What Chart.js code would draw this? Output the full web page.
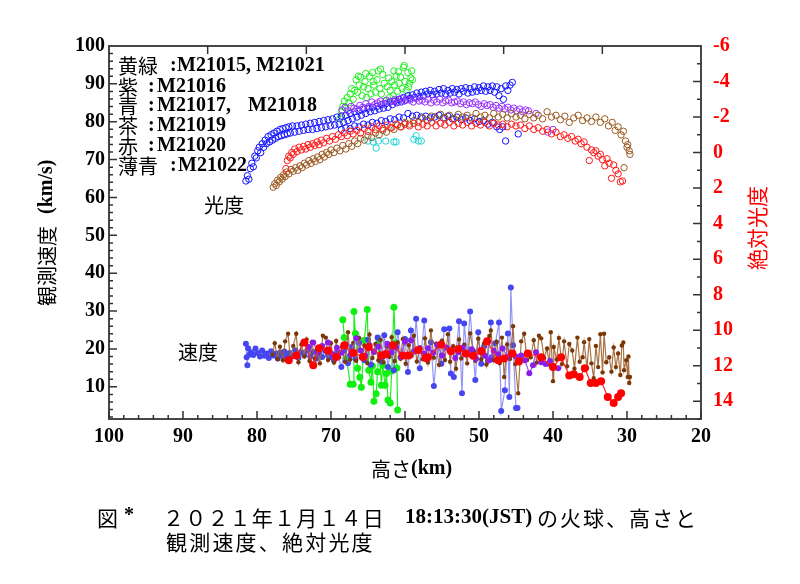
<!DOCTYPE html>
<html lang="ja">
<head>
<meta charset="UTF-8">
<title>2021年1月14日の火球 高さ・観測速度・絶対光度</title>
<script src="https://cdn.jsdelivr.net/npm/chart.js"></script>
<style>
  html, body { margin: 0; padding: 0; background: #fff; }
  #wrap { width: 800px; height: 584px; }
</style>
</head>
<body>
<div id="wrap"><canvas id="fireball" width="800" height="584"></canvas></div>
<script>
// ---- values: height (km) vs velocity (km/s) / absolute magnitude ----

// tick labels
const heightTicks = [20, 30, 40, 50, 60, 70, 80, 90, 100];
const speedTicks = [10, 20, 30, 40, 50, 60, 70, 80, 90, 100];
const magTicks = [-6, -4, -2, 0, 2, 4, 6, 8, 10, 12, 14];

// 黄緑 M21015, M21021 - brightness
const greenLightKm = [68.8,68.6,68.4,68.2,68.0,67.8,67.6,67.4,67.2,67.0, 66.8,66.6,66.4,66.2,66.0,65.8,65.6,65.4,65.2,65.0,
  64.8,64.6,64.4,64.2,64.0,63.8,63.6,63.4,63.2,63.0, 62.8,62.6,62.4,62.2,62.0,61.8,61.6,61.4,61.2,61.0,
  60.8,60.6,60.4,60.2,60.0,59.8,59.6,59.4,59.2,59.0, 66.3,65.3,64.3,63.3,62.1,61.5,60.9,60.1,59.5,59.1];
const greenLightMag = [-1.9,-2.3,-2.6,-2.9,-2.5,-3.1,-2.8,-3.3,-3.6,-3.0, -3.5,-4.1,-3.4,-3.8,-4.25,-3.2,-3.7,-4.0,-3.1,-3.6,
  -4.3,-3.3,-4.5,-3.8,-3.4,-4.1,-4.6,-3.6,-3.3,-4.4, -3.9,-2.9,-3.7,-4.2,-3.5,-4.0,-3.2,-3.8,-4.3,-3.45,
  -3.9,-4.25,-3.6,-4.8,-4.0,-3.5,-4.5,-3.9,-4.2,-4.1, -4.3,-4.45,-4.0,-4.7,-3.1,-4.6,-4.55,-4.9,-3.7,-4.6];

// 紫 M21016 - brightness
const purpleLightKm = [68.5,68.1,67.7,67.3,66.9,66.5,66.1,65.7,65.3,64.9, 64.5,64.1,63.7,63.3,62.9,62.5,62.1,61.7,61.3,60.9,
  60.5,60.1,59.7,59.3,58.9,58.5,58.1,57.7,57.3,56.9, 56.5,56.1,55.7,55.3,54.9,54.5,54.1,53.7,53.3,52.9,
  52.5,52.1,51.7,51.3,50.9,50.5,50.1,49.7,49.3,48.9, 48.5,48.1,47.7,47.3,46.9,46.5,46.1,45.7,45.3,44.9,
  44.5,44.1,43.7,43.3,42.3,40.7,40.0];
const purpleLightMag = [-2.4,-2.55,-2.35,-2.6,-2.5,-2.45,-2.65,-2.55,-2.75,-2.6, -2.85,-2.7,-2.8,-2.9,-2.75,-2.95,-2.85,-2.9,-3.0,-2.85,
  -3.05,-2.9,-3.0,-2.95,-2.85,-3.05,-2.9,-2.95,-2.85,-3.0, -2.8,-2.95,-2.85,-3.0,-2.8,-2.9,-2.95,-2.8,-2.85,-2.9,
  -2.75,-2.85,-2.7,-2.8,-2.75,-2.85,-2.7,-2.6,-2.75,-2.65, -2.7,-2.55,-2.65,-2.5,-2.6,-2.45,-2.55,-2.4,-2.5,-2.35,
  -2.45,-2.3,-2.4,-2.35,-2.2,-1.15,-1.3];

// 青 M21017 - brightness
const blueLightKm = [81.5,81.3,81.1,80.9,80.7,80.5,80.3,80.1,79.9,79.7, 79.5,79.3,79.1,78.9,78.7,78.5,78.3,78.1,77.9,77.7,
  77.5,77.3,77.1,76.9,76.7,76.5,76.3,76.1,75.9,75.7, 75.5,75.2,74.9,74.6,74.3,74.0,73.7,73.4,73.1,72.8,
  72.5,72.2,71.9,71.6,71.3,71.0,70.7,70.4,70.1,69.8, 69.5,69.2,68.9,68.6,68.3,68.0,67.7,67.4,67.1,66.8,
  66.5,66.2,65.9,65.6,65.3,65.0,64.7,64.4,64.1,63.8, 63.5,63.2,62.9,62.6,62.3,62.0,61.7,61.4,61.1,60.8,
  60.5,60.2,59.9,59.6,59.3,59.0,58.7,58.4,58.1,57.8, 57.5,57.2,56.9,56.6,56.3,56.0,55.7,55.4,55.1,54.8,
  54.5,54.2,53.9,53.6,53.3,53.0,52.7,52.4,52.1,51.8, 51.5,51.2,50.9,50.6,50.3,50.0,49.7,49.4,49.1,48.8,
  48.5,48.2,47.9,47.6,47.3,47.0,46.7,46.4,46.1,45.8, 45.5];
const blueLightMag = [1.6,1.3,1.5,0.9,0.6,0.8,0.2,0.3,-0.1,-0.3, 0.0,-0.5,-0.3,-0.7,-0.5,-0.9,-0.6,-1.0,-0.7,-1.1,
  -0.8,-1.2,-0.9,-1.3,-0.95,-1.35,-1.0,-1.4,-1.05,-1.45, -1.1,-1.5,-1.15,-1.5,-1.2,-1.55,-1.25,-1.6,-1.3,-1.65,
  -1.3,-1.7,-1.35,-1.75,-1.4,-1.8,-1.45,-1.85,-1.5,-1.9, -1.55,-2.0,-1.6,-2.05,-1.7,-2.1,-1.8,-2.2,-1.9,-2.3,
  -2.0,-2.35,-2.1,-2.45,-2.2,-2.5,-2.3,-2.55,-2.35,-2.6, -2.45,-2.7,-2.5,-2.75,-2.55,-2.85,-2.7,-2.9,-2.8,-3.0,
  -2.85,-3.1,-2.95,-3.2,-3.05,-3.25,-3.1,-3.35,-3.15,-3.4, -3.2,-3.45,-3.3,-3.5,-3.25,-3.45,-3.3,-3.55,-3.35,-3.6,
  -3.3,-3.5,-3.35,-3.6,-3.4,-3.55,-3.3,-3.6,-3.45,-3.65, -3.35,-3.6,-3.4,-3.7,-3.45,-3.65,-3.5,-3.75,-3.45,-3.7,
  -3.5,-3.75,-3.4,-3.7,-3.2,-3.6,-3.0,-3.75,-3.5,-3.8, -3.95];

// 青 M21018 - brightness
const blue2LightKm = [68.6,68.0,67.4,66.8,66.2,65.6,65.0,64.4,63.8,63.2, 62.6,62.0,61.4,60.8,60.2,59.6,59.0,58.4,57.8,57.2,
  56.6,56.0,55.4,54.8,54.2,53.6,53.0,52.4,51.8,51.2, 50.6,50.0,49.4,48.8,48.2,47.6,47.2,46.8,46.4,44.7];
const blue2LightMag = [-1.3,-1.4,-1.35,-1.5,-1.45,-1.6,-1.55,-1.7,-1.65,-1.8, -1.75,-1.9,-1.85,-2.0,-1.95,-2.2,-2.05,-2.1,-2.0,-2.05,
  -1.95,-2.0,-2.1,-1.95,-2.05,-1.9,-2.0,-1.85,-1.95,-1.8, -1.9,-1.75,-1.8,-1.6,-1.7,-1.45,-1.3,-1.45,-0.65,-1.05];

// 茶 M21019 - brightness
const brownLightKm = [77.8,77.6,77.4,77.2,77.0,76.8,76.6,76.4,76.2,76.0, 75.7,75.4,75.1,74.8,74.5,74.2,73.9,73.6,73.3,73.0,
  72.7,72.4,72.1,71.8,71.5,71.2,70.9,70.6,70.3,70.0, 69.6,69.2,68.8,68.4,68.0,67.6,67.2,66.8,66.4,66.0,
  65.5,65.0,64.5,64.0,63.5,63.0,62.5,62.0,61.5,61.0, 60.5,60.0,59.4,58.8,58.2,57.6,57.0,56.4,55.8,55.2,
  54.6,54.0,53.4,52.8,52.2,51.6,51.0,50.4,49.8,49.2, 48.6,48.0,47.4,46.8,46.2,45.6,45.0,44.4,43.8,43.2,
  42.6,42.0,41.4,40.8,40.2,39.6,39.0,38.4,37.8,37.2, 36.6,36.0,35.4,34.8,34.2,33.6,33.0,32.5,32.0,31.6,
  31.2,30.8,30.5,30.2,29.9,29.7,29.6,30.0,30.4];
const brownLightMag = [1.95,1.75,1.85,1.55,1.65,1.4,1.5,1.25,1.35,1.1, 1.2,0.95,1.05,0.85,1.0,0.75,0.85,0.6,0.7,0.45,
  0.6,0.35,0.5,0.25,0.4,0.1,0.25,0.0,0.1,-0.15, 0.0,-0.25,-0.1,-0.4,-0.2,-0.5,-0.35,-0.65,-0.5,-0.8,
  -0.7,-0.95,-0.85,-1.1,-1.0,-1.25,-1.15,-1.4,-1.3,-1.55, -1.45,-1.7,-1.6,-1.8,-1.7,-1.95,-1.8,-2.05,-1.9,-2.15,
  -1.95,-2.1,-1.9,-2.15,-2.0,-2.1,-1.95,-2.2,-2.0,-2.1, -1.95,-2.2,-2.0,-2.15,-1.95,-2.2,-2.0,-2.1,-1.9,-2.15,
  -1.95,-2.1,-1.9,-2.3,-2.0,-2.1,-1.85,-2.05,-1.7,-1.95, -2.1,-1.8,-1.95,-1.75,-2.0,-1.7,-1.9,-1.5,-1.7,-1.25,
  -1.45,-1.0,-1.2,-0.65,-0.45,-0.1,0.1,-0.3,0.85];

// 赤 M21020 - brightness
const redLightKm = [76.1,75.9,75.7,75.5,75.3,75.1,74.9,74.6,74.3,74.0, 73.7,73.4,73.1,72.8,72.5,72.2,71.9,71.6,71.3,71.0,
  70.6,70.2,69.8,69.4,69.0,68.6,68.2,67.8,67.4,67.0, 66.5,66.0,65.5,65.0,64.5,64.0,63.5,63.0,62.4,61.8,
  61.2,60.6,60.0,59.4,58.8,58.2,57.6,57.0,56.4,55.8, 55.2,54.6,54.0,53.4,52.8,52.2,51.6,51.0,50.4,49.8,
  49.2,48.6,48.0,47.4,46.8,46.2,45.6,45.0,44.4,43.8, 43.2,42.6,42.0,41.4,40.8,40.2,39.6,39.0,38.5,38.0,
  37.5,37.0,36.6,36.2,35.8,35.4,35.1,34.8,34.5,34.2, 33.9,33.6,33.3,33.0,32.7,32.4,32.1,31.8,31.5,31.2,
  30.9,30.6];
const redLightMag = [0.9,0.45,0.2,0.3,0.0,0.1,-0.2,-0.05,-0.3,-0.15, -0.35,-0.2,-0.45,-0.3,-0.5,-0.4,-0.6,-0.45,-0.7,-0.55,
  -0.8,-0.65,-0.9,-0.75,-1.0,-0.9,-1.1,-0.95,-1.2,-1.05, -1.25,-1.1,-1.35,-1.2,-1.45,-1.3,-1.5,-1.35,-1.55,-1.4,
  -1.6,-1.45,-1.6,-1.5,-1.65,-1.45,-1.6,-1.5,-1.7,-1.5, -1.65,-1.55,-1.7,-1.5,-1.65,-1.55,-1.7,-1.5,-1.65,-1.55,
  -1.7,-1.5,-1.65,-1.55,-1.6,-1.45,-1.6,-1.5,-1.55,-1.35, -1.5,-1.3,-1.4,-1.2,-1.3,-1.05,-1.15,-0.9,-1.0,-0.8,
  -0.9,-0.65,-0.75,-0.5,-0.6,-0.3,0.45,-0.15,0.0,-0.1, 0.2,0.1,0.4,0.75,0.35,0.6,1.45,0.7,1.0,1.2,
  1.65,1.6];

// 薄青 M21022 - brightness
const cyanLightKm = [65.0,64.3,63.9,63.6,62.6,61.5,61.2,58.8,58.5,58.2,57.8];
const cyanLightMag = [-0.65,-0.6,-0.25,-0.65,-0.65,-0.6,-0.6,-0.75,-0.95,-0.65,-0.65];

// velocities (km/s)
const blueSpeedKm = [81.5,81.4,81.3,81.2,81.0,80.8,80.5,80.2,79.9,79.6, 79.3,79.0,78.7,78.4,78.1,77.8,77.5,77.2,76.9,76.6,
  76.3,76.0,75.6,75.2,74.8,74.4,74.0,73.6,73.2,72.8, 72.4,72.0,71.6,71.2,70.8,70.4,70.0,69.6,69.2,68.6,
  68.2,67.7,67.2,66.7,66.2,65.5,65.0,64.6,64.2,63.7, 63.2,62.8,62.3,61.9,61.5,61.0,60.5,60.0,59.6,59.2,
  58.8,58.5,58.0,57.4,57.0,56.5,56.1,55.6,55.1,54.7, 54.0,53.8,53.4,52.7,52.3,52.0,51.6,51.2,50.8,50.5,
  50.1,49.7,49.3,48.8,48.4,48.3,47.8,47.3,47.0,46.5, 46.1,45.9,45.7,45.4,45.0,44.8];
const blueSpeed = [21.4,17.8,15.7,20.2,18.5,19.1,18.4,20.1,18.9,18.0, 19.6,18.2,18.8,17.6,19.4,18.3,18.8,17.5,19.0,18.2,
  19.3,17.9,18.9,18.1,19.6,17.7,19.1,18.4,19.6,18.0, 19.2,17.4,18.7,17.9,19.5,18.3,17.8,17.0,18.9,15.2,
  19.6,16.2,20.5,17.4,21.6,17.0,22.4,15.8,19.2,23.0, 16.7,23.6,15.2,20.4,14.4,24.4,18.0,22.6,13.9,24.9,
  19.3,28.0,14.9,27.5,17.2,21.8,10.2,20.8,16.1,25.2, 25.4,13.5,12.6,27.3,8.3,26.7,18.6,29.9,19.4,11.8,
  24.4,16.1,20.7,16.9,27.0,17.8,21.5,27.0,3.6,9.1, 24.1,7.3,36.2,21.0,4.4,4.4];

const brownSpeedKm = [77.9,77.6,77.2,76.9,76.5,76.2,75.8,75.5,75.1,74.7, 74.4,74.0,73.6,73.3,72.9,72.6,72.2,71.9,71.5,71.1,
  70.7,70.4,70.0,69.6,69.3,68.9,68.5,68.1,67.7,67.4, 67.0,66.6,66.2,65.9,65.5,65.1,64.8,64.4,64.0,63.6,
  63.3,62.9,62.5,62.1,61.8,61.4,61.0,60.6,60.3,59.9, 59.5,59.1,58.8,58.4,58.0,57.6,57.3,56.9,56.5,56.1,
  55.8,55.4,55.0,54.6,54.2,53.9,53.5,53.1,52.7,52.4, 52.0,51.6,51.2,50.8,50.5,50.1,49.7,49.3,49.0,48.6,
  48.4,48.0,47.6,47.2,46.9,46.6,46.2,45.8,45.4,45.1, 44.7,44.3,43.9,43.5,43.0,42.6,42.2,41.9,41.6,41.2,
  40.8,40.5,40.3,40.0,39.9,39.5,39.2,38.8,38.5,38.1, 37.8,37.4,37.1,36.7,36.4,36.0,35.8,35.4,35.1,34.8,
  34.5,34.2,33.9,33.6,33.3,33.1,32.8,32.4,32.1,31.8, 31.5,31.2,30.9,30.7,30.5,30.4,30.1,29.9,29.8,29.7,
  29.6];
const brownSpeed = [18.5,21.5,17.3,20.6,17.0,22.0,24.0,17.5,20.8,24.0, 16.5,21.2,18.0,22.5,16.8,21.8,17.4,20.1,16.2,23.5,
  23.0,17.1,21.5,16.4,22.1,17.8,20.5,16.6,24.4,17.2, 21.6,16.9,22.9,18.1,20.9,16.3,23.8,17.6,21.3,17.0,
  22.4,16.5,20.6,17.9,23.1,16.8,21.7,17.4,22.6,16.1, 21.0,18.2,23.5,16.7,20.4,17.3,22.8,16.4,24.9,17.7,
  21.4,15.8,22.2,17.1,23.9,16.6,20.7,14.8,22.5,17.5, 21.1,16.2,24.1,19.6,16.9,22.7,17.3,21.5,15.9,23.4,
  24.9,17.0,21.9,16.3,23.0,12.6,21.2,17.4,26.0,16.0, 8.3,22.0,24.0,17.1,17.8,22.3,16.4,23.5,22.8,17.6,
  20.1,15.9,24.4,11.5,20.5,17.2,22.9,16.0,22.0,15.4, 21.3,19.6,14.8,23.0,16.6,17.8,21.8,15.0,22.6,16.2,
  12.3,20.8,15.2,23.9,13.8,24.0,16.5,17.8,14.0,20.4, 15.2,18.8,13.1,20.9,21.7,14.4,17.0,12.6,18.0,11.0,
  12.6];

const redSpeedKm = [75.7,74.7,73.6,72.4,71.6,70.4,69.3,68.2,67.0,65.7, 64.9,63.2,62.6,61.6,60.3,59.5,58.2,57.2,56.9,55.1,
  53.8,52.8,51.8,50.8,49.7,48.9,47.4,46.6,45.5,44.6, 43.4,41.6,40.0,38.9,37.8,37.2,36.4,35.7,34.9,34.2,
  33.5,32.6,31.8,31.2,30.8];
const redSpeed = [17.0,18.3,21.7,15.7,20.2,19.6,17.9,21.0,19.0,17.9, 20.5,18.3,18.6,21.0,18.3,18.3,19.7,17.6,17.8,21.2,
  19.4,20.0,18.8,18.2,19.4,22.0,17.0,17.5,18.8,16.7, 18.8,17.8,15.2,17.8,13.0,13.3,12.6,14.9,11.0,11.0,
  11.5,7.3,5.7,7.3,8.3];

const purpleSpeedKm = [73.0,72.4,71.8,71.2,70.4,69.8,69.2,68.6,68.0,67.4, 66.6,66.0,65.4,64.8,64.2,63.6,63.0,62.4,61.8,61.2,
  60.6,60.0,59.2,58.6,58.0,57.4,56.9,56.2,55.6,55.0, 54.4,53.8,53.2,52.8,52.2,51.6,51.0,50.4,49.8,49.2,
  48.6,48.0,47.4,46.8,46.2,45.6,45.0,44.3,43.8,43.2, 42.7,42.3,41.6,41.0,40.4,39.9,39.3];
const purpleSpeed = [20.5,21.7,19.2,20.8,21.7,18.6,20.3,19.0,21.2,18.4, 22.8,19.6,18.2,21.0,19.3,20.6,18.0,21.4,19.1,20.4,
  17.8,21.9,22.3,19.4,20.1,18.7,20.2,19.0,21.0,18.3, 20.4,19.5,17.6,19.1,20.3,18.5,19.9,17.4,19.7,18.2,
  17.0,19.5,18.6,20.1,17.9,19.0,18.0,18.3,17.0,13.6, 15.7,19.1,16.5,16.0,16.8,15.2,14.9];

const greenSpeedKm = [68.4,68.2,67.9,67.4,67.0,66.9,66.7,66.4,66.1,65.9, 65.5,65.1,64.9,64.6,64.4,64.2,63.9,63.7,63.5,63.2,
  63.0,62.7,62.5,62.3,62.0,61.8,61.5,61.3,61.1,61.0];
const greenSpeed = [27.7,23.0,17.5,10.7,10.7,29.9,24.1,14.9,12.5,9.9, 22.3,30.4,14.4,11.2,15.5,6.2,8.2,14.0,22.3,10.4,
  15.6,10.4,13.5,6.5,5.7,14.2,31.0,21.5,15.0,3.9];

// ---- chart ----
const SERIF = '"Liberation Serif", "DejaVu Serif", serif';
const JP = '"Noto Sans CJK JP", "Noto Sans", sans-serif';

function pts(kms, vals) {
  const n = Math.min(kms.length, vals.length);
  const out = [];
  for (let i = 0; i < n; i++) out.push({ x: kms[i], y: vals[i] });
  return out;
}

function lightSet(kms, mags, color) {
  return {
    data: pts(kms, mags), yAxisID: 'y2', showLine: false,
    pointStyle: 'circle', pointRadius: 3.2, pointBorderWidth: 1,
    pointBorderColor: color, pointBackgroundColor: 'rgba(0,0,0,0)'
  };
}

function speedSet(kms, vals, dot, line, r) {
  return {
    data: pts(kms, vals), yAxisID: 'y', showLine: true,
    borderColor: line, borderWidth: 1.2,
    pointRadius: r, pointBorderWidth: 0, pointBackgroundColor: dot
  };
}

const datasets = [
  speedSet(redSpeedKm, redSpeed, '#ff0000', '#ff2222', 4),
  speedSet(purpleSpeedKm, purpleSpeed, '#8a1ee8', '#9a50f0', 3),
  speedSet(brownSpeedKm, brownSpeed, '#7a3808', 'rgba(160,100,50,0.9)', 2.2),
  speedSet(blueSpeedKm, blueSpeed, '#4646f0', 'rgba(90,90,245,0.65)', 3),
  speedSet(greenSpeedKm, greenSpeed, '#10f010', '#22ee22', 3.5),
  lightSet(redLightKm, redLightMag, '#ff1a1a'),
  lightSet(brownLightKm, brownLightMag, '#9a5a20'),
  lightSet(cyanLightKm, cyanLightMag, '#20d2d2'),
  lightSet(purpleLightKm, purpleLightMag, '#9933ff'),
  lightSet(blueLightKm, blueLightMag, '#1414ff'),
  lightSet(blue2LightKm, blue2LightMag, '#1414ff'),
  lightSet(greenLightKm, greenLightMag, '#22ee22')
];

function put(ctx, s, x, y, font, color, align) {
  ctx.font = font;
  ctx.fillStyle = color || '#000';
  ctx.textAlign = align || 'left';
  ctx.textBaseline = 'middle';
  ctx.fillText(s, x, y);
}

function spaced(ctx, s, x, y, font, adv) {
  [...s].forEach((c, i) => put(ctx, c, x + i * adv, y, font));
}

// frame with inward tick marks, like the original plot
const frame = {
  id: 'frame',
  afterDraw(chart) {
    const { ctx, chartArea: a, scales } = chart;
    ctx.save();
    ctx.strokeStyle = '#333';
    ctx.lineWidth = 1.5;
    ctx.beginPath();
    for (let k = 20; k <= 100; k += 2) {
      const px = scales.x.getPixelForValue(k);
      const len = k % 10 === 0 ? 8 : 4;
      ctx.moveTo(px, a.bottom); ctx.lineTo(px, a.bottom - len);
    }
    for (let i = 1; i < 6; i++) {
      const px = a.left + (a.right - a.left) * i / 6;
      ctx.moveTo(px, a.top); ctx.lineTo(px, a.top + 8);
    }
    for (let v = 2; v < 100; v += 2) {
      const py = scales.y.getPixelForValue(v);
      const len = v % 10 === 0 ? 8 : 4;
      ctx.moveTo(a.left, py); ctx.lineTo(a.left + len, py);
    }
    for (let m = -5; m <= 15; m++) {
      const py = scales.y2.getPixelForValue(m);
      const len = m % 2 === 0 ? 8 : 4;
      ctx.moveTo(a.right, py); ctx.lineTo(a.right - len, py);
    }
    ctx.stroke();
    ctx.lineWidth = 1.8;
    ctx.strokeRect(a.left, a.top, a.right - a.left, a.bottom - a.top);
    ctx.restore();
  }
};

// legend block, labels, axis titles and the caption
const texts = {
  id: 'texts',
  afterDraw(chart) {
    const ctx = chart.ctx;
    const cj = '20px ' + JP;
    const bs = 'bold 20px ' + SERIF;
    ctx.save();
    const rows = [
      ['黄緑', 66, 170, [['M21015, M21021', 177]]],
      ['紫', 87, 148, [['M21016', 157]]],
      ['青', 106, 148, [['M21017,', 157], ['M21018', 248]]],
      ['茶', 126, 148, [['M21019', 157]]],
      ['赤', 146, 148, [['M21020', 157]]],
      ['薄青', 166, 170, [['M21022', 178]]]
    ];
    rows.forEach(([name, y, cx, parts]) => {
      put(ctx, name, 118, y, cj);
      put(ctx, ':', cx, y, bs);
      parts.forEach(([s, x]) => put(ctx, s, x, y, bs));
    });
    put(ctx, '光度', 224, 205, cj, '#000', 'center');
    put(ctx, '速度', 198, 352, cj, '#000', 'center');

    // x title
    put(ctx, '高さ', 411, 469, cj, '#000', 'right');
    put(ctx, '(km)', 411, 469, bs);

    // left title, rotated
    ctx.save();
    ctx.translate(47, 0);
    ctx.rotate(-Math.PI / 2);
    put(ctx, '観測速度', -306, 0, cj);
    put(ctx, '(km/s)', -214, 0, bs);
    ctx.restore();

    // right title, rotated
    ctx.save();
    ctx.translate(757, 228);
    ctx.rotate(-Math.PI / 2);
    put(ctx, '絶対光度', 0, 0, '21px ' + JP, '#ff0000', 'center');
    ctx.restore();

    // caption
    put(ctx, '図', 97, 518, '21px ' + JP);
    put(ctx, '*', 124, 516, 'bold 20px ' + SERIF);
    spaced(ctx, '２０２１年１月１４日', 163, 518, '21px ' + JP, 22.2);
    put(ctx, '18:13:30(JST)', 405, 518, 'bold 21px ' + SERIF);
    spaced(ctx, 'の火球、高さと', 537, 518, '21px ' + JP, 23);
    spaced(ctx, '観測速度、絶対光度', 166, 542, '21px ' + JP, 23.2);
    ctx.restore();
  }
};

const tickFont = { family: SERIF, size: 20, weight: 'bold' };

new Chart(document.getElementById('fireball'), {
  type: 'scatter',
  data: { datasets },
  options: {
    responsive: false,
    animation: false,
    layout: { padding: { top: 46, left: 0, right: 0, bottom: 0 } },
    plugins: { legend: { display: false }, tooltip: { enabled: false } },
    scales: {
      x: {
        type: 'linear', reverse: true, min: 20, max: 100,
        grid: { display: false, drawTicks: false }, border: { display: false },
        afterBuildTicks: s => { s.ticks = heightTicks.map(v => ({ value: v })); },
        afterFit: s => { s.height = 165; },
        ticks: { color: '#000', font: tickFont, padding: 6, maxRotation: 0, autoSkip: false }
      },
      y: {
        position: 'left', min: 1.5, max: 100,
        grid: { display: false, drawTicks: false }, border: { display: false },
        afterBuildTicks: s => { s.ticks = speedTicks.map(v => ({ value: v })); },
        afterFit: s => { s.width = 109; },
        ticks: { color: '#000', font: tickFont, padding: 4, autoSkip: false }
      },
      y2: {
        position: 'right', reverse: true, min: -6, max: 15,
        grid: { display: false, drawTicks: false }, border: { display: false },
        afterBuildTicks: s => { s.ticks = magTicks.map(v => ({ value: v })); },
        afterFit: s => { s.width = 99; },
        ticks: { color: '#ff0000', font: tickFont, padding: 12, autoSkip: false }
      }
    }
  },
  plugins: [frame, texts]
});
</script>
</body>
</html>
